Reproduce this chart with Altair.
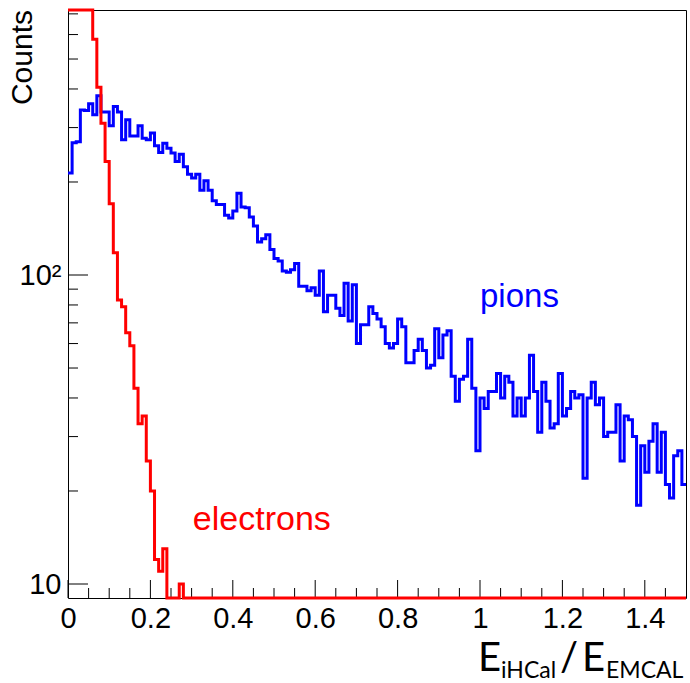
import altair as alt
import pandas as pd

# ---------------- data ----------------
bin_width = 0.01
n_bins = 150

pions = [214, 268, 270, 342, 341, 358, 330, 380, 337, 337,
         304, 351, 337, 274, 318, 282, 282, 304, 277, 274,
         288, 262, 249, 267, 257, 248, 233, 246, 224, 212,
         206, 212, 188, 202, 188, 174, 169, 169, 156, 153,
         161, 184, 166, 165, 154, 144, 128, 131, 135, 121,
         113, 111, 103, 102, 104, 109, 92, 92, 89, 91,
         86, 103, 76, 86, 86, 78, 74, 94, 71, 93,
         60, 69, 69, 79, 75, 72, 68, 60, 58, 60,
         72, 68, 52, 52, 57, 62, 57, 50, 51, 67,
         54, 64, 66, 47, 39, 46, 47, 62, 43, 27,
         40, 37, 42, 42, 48, 40, 47, 45, 35, 40,
         35, 40, 55, 42, 31, 45, 39, 32, 33, 48,
         35, 37, 42, 40, 41, 22, 40, 45, 38, 40,
         30, 31, 31, 38, 25, 35, 34, 30, 18, 28,
         23, 29, 33, 23, 31, 21, 19, 26, 27, 21]

electrons = [1800, 2600, 3100, 2900, 2300, 1500, 579, 405, 310, 233,
             170, 118, 83, 79, 65, 59, 43, 33, 35, 25,
             20, 12, 11, 13, 0, 0, 0, 10] + [0] * 122

y_major = [10, 100]
y_minor = [20, 30, 40, 50, 60, 70, 80, 90, 200, 300, 400, 500, 600, 700]
x_major = [0, 0.2, 0.4, 0.6, 0.8, 1.0, 1.2, 1.4]
x_minor = [0.05, 0.1, 0.15, 0.25, 0.3, 0.35, 0.45, 0.5, 0.55, 0.65, 0.7, 0.75,
           0.85, 0.9, 0.95, 1.05, 1.1, 1.15, 1.25, 1.3, 1.35, 1.45]

# ---------------- layout ----------------
W, H = 618, 588
Y_MIN, Y_MAX = 9.01, 720.5
FLOOR = 1  # empty bins are drawn on the lower edge (clamped)


def hist_table(counts):
    rows = [{"x": i * bin_width, "y": max(c, FLOOR), "o": i} for i, c in enumerate(counts)]
    rows.append({"x": n_bins * bin_width, "y": max(counts[-1], FLOOR), "o": n_bins})
    return pd.DataFrame(rows)


xscale = alt.Scale(domain=[0, 1.5], nice=False, zero=False)
yscale = alt.Scale(type="log", domain=[Y_MIN, Y_MAX], nice=False, clamp=True)

xaxis = alt.Axis(values=x_major, format="~g", ticks=False, domain=False, grid=False,
                 labelFont="Liberation Sans", labelFontSize=29, labelColor="black",
                 labelPadding=6, title=None, labelFlush=False)
yaxis = alt.Axis(values=y_major, labelExpr="datum.value == 100 ? '10²' : '10'",
                 ticks=False, domain=False, grid=False,
                 labelFont="Liberation Sans", labelFontSize=29, labelColor="black",
                 labelPadding=7, title=None)

base_axes = alt.Chart(pd.DataFrame({"x": [0.0], "y": [10.0]})).mark_point(opacity=0).encode(
    x=alt.X("x:Q", scale=xscale, axis=xaxis),
    y=alt.Y("y:Q", scale=yscale, axis=yaxis),
)

pion_line = alt.Chart(hist_table(pions)).mark_line(
    interpolate="step-after", color="#0000ff", strokeWidth=3
).encode(x=alt.X("x:Q", scale=xscale), y=alt.Y("y:Q", scale=yscale), order="o:Q")

ele_line = alt.Chart(hist_table(electrons)).mark_line(
    interpolate="step-after", color="#ff0000", strokeWidth=3
).encode(x=alt.X("x:Q", scale=xscale), y=alt.Y("y:Q", scale=yscale), order="o:Q")

# ticks drawn inward (ROOT style)
xmaj = alt.Chart(pd.DataFrame({"v": x_major})).mark_rule(color="black", strokeWidth=1).encode(
    x=alt.X("v:Q", scale=xscale), y=alt.value(H), y2=alt.value(H - 18))
xmin = alt.Chart(pd.DataFrame({"v": x_minor})).mark_rule(color="black", strokeWidth=1).encode(
    x=alt.X("v:Q", scale=xscale), y=alt.value(H), y2=alt.value(H - 10))
ymaj = alt.Chart(pd.DataFrame({"v": y_major})).mark_rule(color="black", strokeWidth=1).encode(
    y=alt.Y("v:Q", scale=yscale), x=alt.value(0), x2=alt.value(20))
ymin = alt.Chart(pd.DataFrame({"v": y_minor})).mark_rule(color="black", strokeWidth=1).encode(
    y=alt.Y("v:Q", scale=yscale), x=alt.value(0), x2=alt.value(10))

# series labels
lab_pions = alt.Chart(pd.DataFrame({"x": [1.0], "y": [79.0], "t": ["pions"]})).mark_text(
    align="left", baseline="alphabetic", color="#0000ff", font="Liberation Sans", fontSize=33
).encode(x=alt.X("x:Q", scale=xscale), y=alt.Y("y:Q", scale=yscale), text="t:N")
lab_ele = alt.Chart(pd.DataFrame({"x": [0.303], "y": [15.0], "t": ["electrons"]})).mark_text(
    align="left", baseline="alphabetic", color="#ff0000", font="Liberation Sans", fontSize=34
).encode(x=alt.X("x:Q", scale=xscale), y=alt.Y("y:Q", scale=yscale), text="t:N")

# axis titles
counts_title = alt.Chart(pd.DataFrame({"t": ["Counts"]})).mark_text(
    angle=270, align="right", baseline="middle", font="Liberation Sans", fontSize=30, color="black"
).encode(x=alt.value(23 - 68), y=alt.value(0), text="t:N")

OX, OY = 68, 10
title_parts = [
    ("E", 478, 671, 40),
    ("iHCal", 501, 678, 23),
    ("/", 560, 671, 40),
    ("E", 582, 671, 40),
    ("EMCAL", 606, 678, 23),
]
xtitle_layers = []
for txt, px, py, fs in title_parts:
    xtitle_layers.append(
        alt.Chart(pd.DataFrame({"t": [txt]})).mark_text(
            align="left", baseline="alphabetic", font="Lato", fontSize=fs, color="black"
        ).encode(x=alt.value(px - OX), y=alt.value(py - OY), text="t:N")
    )

chart = alt.layer(
    base_axes, xmin, xmaj, ymin, ymaj, pion_line, ele_line, lab_pions, lab_ele,
    counts_title, *xtitle_layers
).properties(
    width=W, height=H,
    autosize=alt.AutoSizeParams(type="none"),
    padding={"left": 68, "top": 10, "right": 4, "bottom": 85},
    background="white",
).configure_view(stroke="black", strokeWidth=1)

chart.save("out.html", embed_options={"renderer": "svg", "actions": False})
